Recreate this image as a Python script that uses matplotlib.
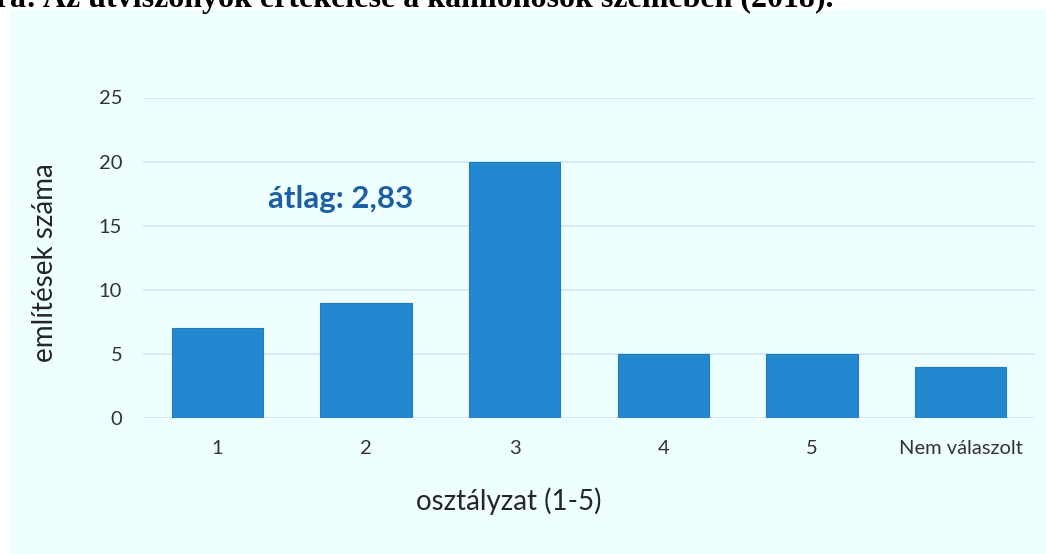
import matplotlib.pyplot as plt
from matplotlib.patches import Rectangle

categories = ['1', '2', '3', '4', '5', 'Nem válaszolt']
counts = [7, 9, 20, 5, 5, 4]
y_ticks = [0, 5, 10, 15, 20, 25]
mean_label = 'átlag: 2,83'
caption = 'ábra: Az útviszonyok értékelése a kamionosok szemében (2018).'

plt.rcParams['font.family'] = ['Lato', 'DejaVu Sans']

W, H = 1046, 554
fig = plt.figure(figsize=(W / 100, H / 100), dpi=100)

# light panel behind the chart
fig.patches.append(Rectangle((10 / W, 0), 1 - 10 / W, 1 - 10 / H,
                             transform=fig.transFigure, facecolor='#EFFEFF',
                             edgecolor='none', zorder=-10))

# caption sits above the panel, mostly cut off by the top edge
fig.text(833 / W, 1 - 7 / H, caption, ha='right', va='baseline',
         family='Liberation Serif', fontweight='bold', fontsize=23, color='black')

ax = fig.add_axes([143 / W, 1 - 418 / H, (1035 - 143) / W, (418 - 97.5) / H])
ax.set_facecolor('none')

x = range(len(categories))
ax.bar(x, counts, width=0.615, color='#2388CF', edgecolor='#1E7BC2', linewidth=0.8, zorder=3)

ax.set_xlim(-0.5, len(categories) - 0.5)
ax.set_ylim(0, 25)
ax.set_yticks(y_ticks)
ax.set_xticks(list(x))
ax.set_xticklabels(categories)
ax.grid(axis='y', color='#D8E6F6', linewidth=1.3, zorder=0)
ax.tick_params(length=0, labelsize=14.5, labelcolor='#333333')
ax.tick_params(axis='y', pad=15)
ax.tick_params(axis='x', pad=15.5)
for s in ax.spines.values():
    s.set_visible(False)

ax.set_ylabel('említések száma', fontsize=20, color='#262626')
ax.set_xlabel('osztályzat (1-5)', fontsize=20, color='#262626')
ax.yaxis.set_label_coords(-0.095, 0.484)
ax.xaxis.set_label_coords(0.41, -0.215)

ax.text(0.83, 17.1, mean_label, ha='center', va='center', fontsize=22.5,
        fontweight='bold', color='#1D5FA5')

fig.savefig('out.png', dpi=100)
